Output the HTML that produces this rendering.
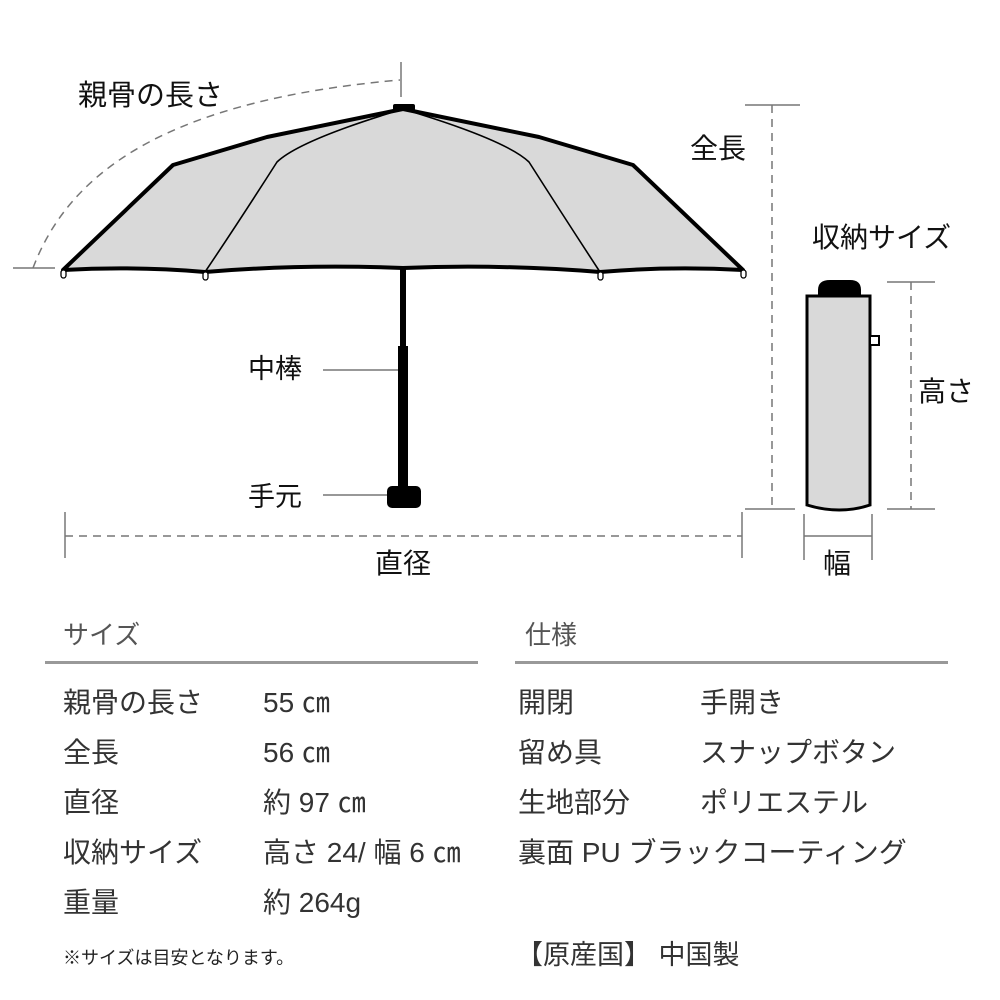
<!DOCTYPE html>
<html><head><meta charset="utf-8"><style>
html,body{margin:0;padding:0;background:#fff}
svg{display:block}
text{font-family:"Liberation Sans","Noto Sans CJK JP",sans-serif}
</style></head><body>
<svg width="1000" height="1000" viewBox="0 0 1000 1000" xmlns="http://www.w3.org/2000/svg">
<path d="M33,268 C70,170 170,100 400,80" fill="none" stroke="#777" stroke-width="1.5" stroke-dasharray="8,6"/>
<line x1="401" y1="62" x2="401" y2="97" stroke="#777" stroke-width="1.5"/>
<line x1="13" y1="268" x2="55" y2="268" stroke="#777" stroke-width="1.5"/>
<text x="78" y="105" font-size="29" fill="#111">親骨の長さ</text>
<path d="M63,270 L173,165 L267,137 L403,109 L539,137 L633,165 L743,270 Q670,266 600,272 Q500,264 403,268 Q300,264 205,272 Q135,266 63,270 Z" fill="#d9d9d9" stroke="#000" stroke-width="4" stroke-linejoin="round"/>
<path d="M403,109 Q300,140 277,162 Q240,220 205,272" fill="none" stroke="#000" stroke-width="1.6"/>
<path d="M403,109 Q506,140 529,162 Q566,220 600,272" fill="none" stroke="#000" stroke-width="1.6"/>
<rect x="393" y="104" width="22" height="7" rx="2" fill="#000"/>
<g fill="#fff" stroke="#000" stroke-width="1.3">
<rect x="61" y="270" width="5" height="8" rx="2.5"/><rect x="203" y="272" width="5" height="8" rx="2.5"/>
<rect x="598" y="272" width="5" height="8" rx="2.5"/><rect x="741" y="270" width="5" height="8" rx="2.5"/>
</g>
<rect x="400" y="268" width="6" height="80" fill="#000"/>
<rect x="398" y="346" width="10" height="142" fill="#000"/>
<rect x="387" y="486" width="34" height="22" rx="5" fill="#000"/>
<line x1="323" y1="370" x2="398" y2="370" stroke="#777" stroke-width="1.5"/>
<line x1="323" y1="495" x2="387" y2="495" stroke="#777" stroke-width="1.5"/>
<text x="248" y="378" font-size="27" fill="#111">中棒</text>
<text x="248" y="506" font-size="27" fill="#111">手元</text>
<line x1="772" y1="105" x2="772" y2="510" stroke="#777" stroke-width="1.5" stroke-dasharray="8,6"/>
<line x1="745" y1="105" x2="800" y2="105" stroke="#777" stroke-width="1.5"/>
<line x1="745" y1="509" x2="795" y2="509" stroke="#777" stroke-width="1.5"/>
<text x="690" y="158" font-size="28" fill="#111">全長</text>
<text x="812" y="247" font-size="28" fill="#111">収納サイズ</text>
<path d="M818,296 L818,290 Q818,280 830,280 L850,280 Q861,280 861,290 L861,296 Z" fill="#000"/>
<path d="M807,296 L870,296 L870,505 Q840,515 807,505 Z" fill="#d9d9d9" stroke="#000" stroke-width="3"/>
<rect x="870" y="336" width="9" height="9" fill="#fff" stroke="#000" stroke-width="2"/>
<line x1="911" y1="282" x2="911" y2="509" stroke="#777" stroke-width="1.5" stroke-dasharray="8,6"/>
<line x1="887" y1="282" x2="935" y2="282" stroke="#777" stroke-width="1.5"/>
<line x1="887" y1="509" x2="935" y2="509" stroke="#777" stroke-width="1.5"/>
<text x="918" y="401" font-size="28" fill="#111">高さ</text>
<line x1="804" y1="514" x2="804" y2="560" stroke="#777" stroke-width="1.5"/>
<line x1="872" y1="514" x2="872" y2="560" stroke="#777" stroke-width="1.5"/>
<line x1="804" y1="536" x2="872" y2="536" stroke="#777" stroke-width="1.5"/>
<text x="823" y="573" font-size="28" fill="#111">幅</text>
<line x1="65" y1="536" x2="742" y2="536" stroke="#777" stroke-width="1.5" stroke-dasharray="8,6"/>
<line x1="65" y1="512" x2="65" y2="558" stroke="#777" stroke-width="1.5"/>
<line x1="742" y1="512" x2="742" y2="558" stroke="#777" stroke-width="1.5"/>
<text x="375" y="573" font-size="28" fill="#111">直径</text>
<text x="63" y="644" font-size="26" fill="#555">サイズ</text>
<text x="525" y="644" font-size="26" fill="#555">仕様</text>
<rect x="45" y="661" width="433" height="3" fill="#999"/>
<rect x="515" y="661" width="433" height="3" fill="#999"/>
<g font-size="28" fill="#333">
<text x="63" y="712">親骨の長さ</text><text x="263" y="712">55 ㎝</text>
<text x="63" y="762">全長</text><text x="263" y="762">56 ㎝</text>
<text x="63" y="812">直径</text><text x="263" y="812">約 97 ㎝</text>
<text x="63" y="862">収納サイズ</text><text x="263" y="862">高さ 24/ 幅 6 ㎝</text>
<text x="63" y="912">重量</text><text x="263" y="912">約 264g</text>
<text x="518" y="712">開閉</text><text x="700" y="712">手開き</text>
<text x="518" y="762">留め具</text><text x="700" y="762">スナップボタン</text>
<text x="518" y="812">生地部分</text><text x="700" y="812">ポリエステル</text>
<text x="518" y="862">裏面 PU ブラックコーティング</text>
</g>
<text x="516" y="964" font-size="27" fill="#333">【原産国】 中国製</text>
<text x="63" y="964" font-size="18" fill="#222">※サイズは目安となります。</text>
</svg>
</body></html>
